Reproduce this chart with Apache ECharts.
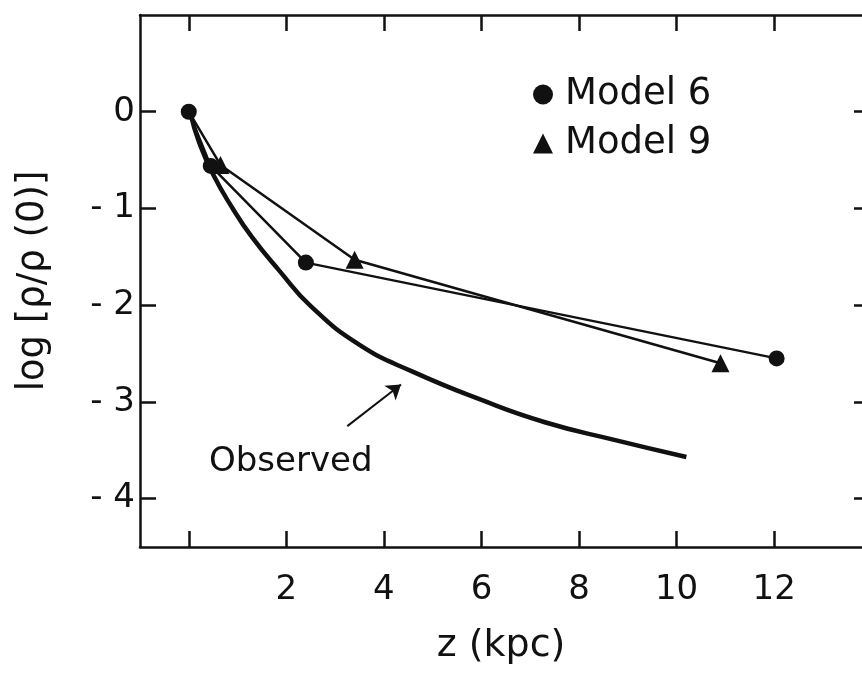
<!DOCTYPE html>
<html lang="en">
<head>
    <meta charset="UTF-8">
    <title>log density vs z</title>
    <script type="text/javascript" src="https://cdn.jsdelivr.net/npm/echarts@6/dist/echarts.min.js"></script>
    <style>
        html, body {margin: 0; padding: 0; background: #fff;}
    </style>
</head>
<body>
<div id="main" style="width: 862px; height: 674px;"></div>

<script>
    // 数据
    var model6 = [[0, 0], [0.45, -0.56], [2.4, -1.56], [12.05, -2.55]];
    var model9 = [[0, 0], [0.65, -0.55], [3.4, -1.53], [10.9, -2.6]];
    var observed = [
        [0.05, -0.05], [0.2, -0.3], [0.5, -0.65], [0.9, -1.0], [1.3, -1.3],
        [1.85, -1.64], [2.5, -2.01], [3.5, -2.41], [4.6, -2.69], [6, -2.98],
        [7.3, -3.21], [8.7, -3.39], [10.2, -3.57]
    ];
    var arrowFrom = [3.25, -3.25];
    var arrowTo = [4.35, -2.82];
    var observedLabelAt = [2.09, -3.62];

    var xTicks = [0, 2, 4, 6, 8, 10, 12];
    var xLabels = [2, 4, 6, 8, 10, 12];
    var yTicks = [0, -1, -2, -3, -4];

    var font = 'DejaVu Sans';
    var black = '#111';

    var myChart = echarts.init(document.getElementById('main'));

    function xAxisBase(pos) {
        return {
            type: 'value',
            position: pos,
            min: -1,
            max: 13.8,
            axisLine: {show: true, onZero: false, lineStyle: {color: black, width: 2.5}},
            axisTick: {show: true, inside: true, length: 16, customValues: xTicks,
                lineStyle: {color: black, width: 2.5}},
            axisLabel: {show: false},
            splitLine: {show: false}
        };
    }

    function yAxisBase(pos) {
        return {
            type: 'value',
            position: pos,
            min: -4.5,
            max: 1,
            axisLine: {show: true, onZero: false, lineStyle: {color: black, width: 2.5}},
            axisTick: {show: true, inside: true, length: 16, customValues: yTicks,
                lineStyle: {color: black, width: 2.5}},
            axisLabel: {show: false},
            splitLine: {show: false}
        };
    }

    var xBottom = xAxisBase('bottom');
    xBottom.name = 'z (kpc)';
    xBottom.nameLocation = 'middle';
    xBottom.nameGap = 80;
    xBottom.nameTextStyle = {color: black, fontSize: 38, fontFamily: font};
    xBottom.axisLabel = {
        show: true, customValues: xLabels, margin: 26,
        color: black, fontSize: 34, fontFamily: font
    };

    var yLeft = yAxisBase('left');
    yLeft.name = 'log [ρ/ρ (0)]';
    yLeft.nameLocation = 'middle';
    yLeft.nameGap = 88;
    yLeft.nameTextStyle = {color: black, fontSize: 37, fontFamily: font};
    yLeft.axisLabel = {
        show: true, customValues: yTicks, margin: 5,
        color: black, fontSize: 34, fontFamily: font,
        formatter: function (v) {
            return v < 0 ? '- ' + Math.abs(v) : String(v);
        }
    };

    // 右侧边框在图片外，只留刻度
    var yRight = yAxisBase('right');
    yRight.axisLine.lineStyle.color = 'transparent';
    yRight.axisTick.length = 8;

    var option = {
        backgroundColor: '#fff',
        animation: false,
        grid: {left: 140, top: 15, right: 0, bottom: 127},
        legend: {
            orient: 'vertical',
            left: 528,
            top: 71,
            itemGap: 12,
            itemWidth: 20,
            itemHeight: 20,
            textStyle: {color: black, fontSize: 37, fontFamily: font, padding: [0, 0, 0, 7]},
            data: [
                {name: 'Model 6', icon: 'circle'},
                {name: 'Model 9', icon: 'triangle'}
            ]
        },
        xAxis: [xBottom, xAxisBase('top')],
        yAxis: [yLeft, yRight],
        series: [
            {
                name: 'Observed',
                type: 'line',
                smooth: 0.5,
                symbol: 'none',
                lineStyle: {color: black, width: 4.5},
                data: observed,
                markLine: {
                    silent: true,
                    symbol: ['none', 'arrow'],
                    symbolSize: 14,
                    label: {show: false},
                    lineStyle: {color: black, width: 2, type: 'solid'},
                    data: [[{coord: arrowFrom}, {coord: arrowTo}]]
                }
            },
            {
                name: 'Model 6',
                type: 'line',
                symbol: 'circle',
                symbolSize: 16,
                itemStyle: {color: black},
                lineStyle: {color: black, width: 2.5},
                data: model6
            },
            {
                name: 'Model 9',
                type: 'line',
                symbol: 'triangle',
                symbolSize: 18,
                itemStyle: {color: black},
                lineStyle: {color: black, width: 2.5},
                data: model9.map(function (p, i) {
                    return i === 0 ? {value: p, symbol: 'none'} : p;
                })
            },
            {
                name: 'label',
                type: 'scatter',
                symbol: 'circle',
                symbolSize: 1,
                itemStyle: {color: 'rgba(0,0,0,0)', opacity: 1},
                silent: true,
                label: {
                    show: true, position: 'inside', formatter: 'Observed',
                    color: black, fontSize: 34, fontFamily: font
                },
                data: [observedLabelAt]
            }
        ]
    };

    myChart.setOption(option);
</script>
</body>
</html>
